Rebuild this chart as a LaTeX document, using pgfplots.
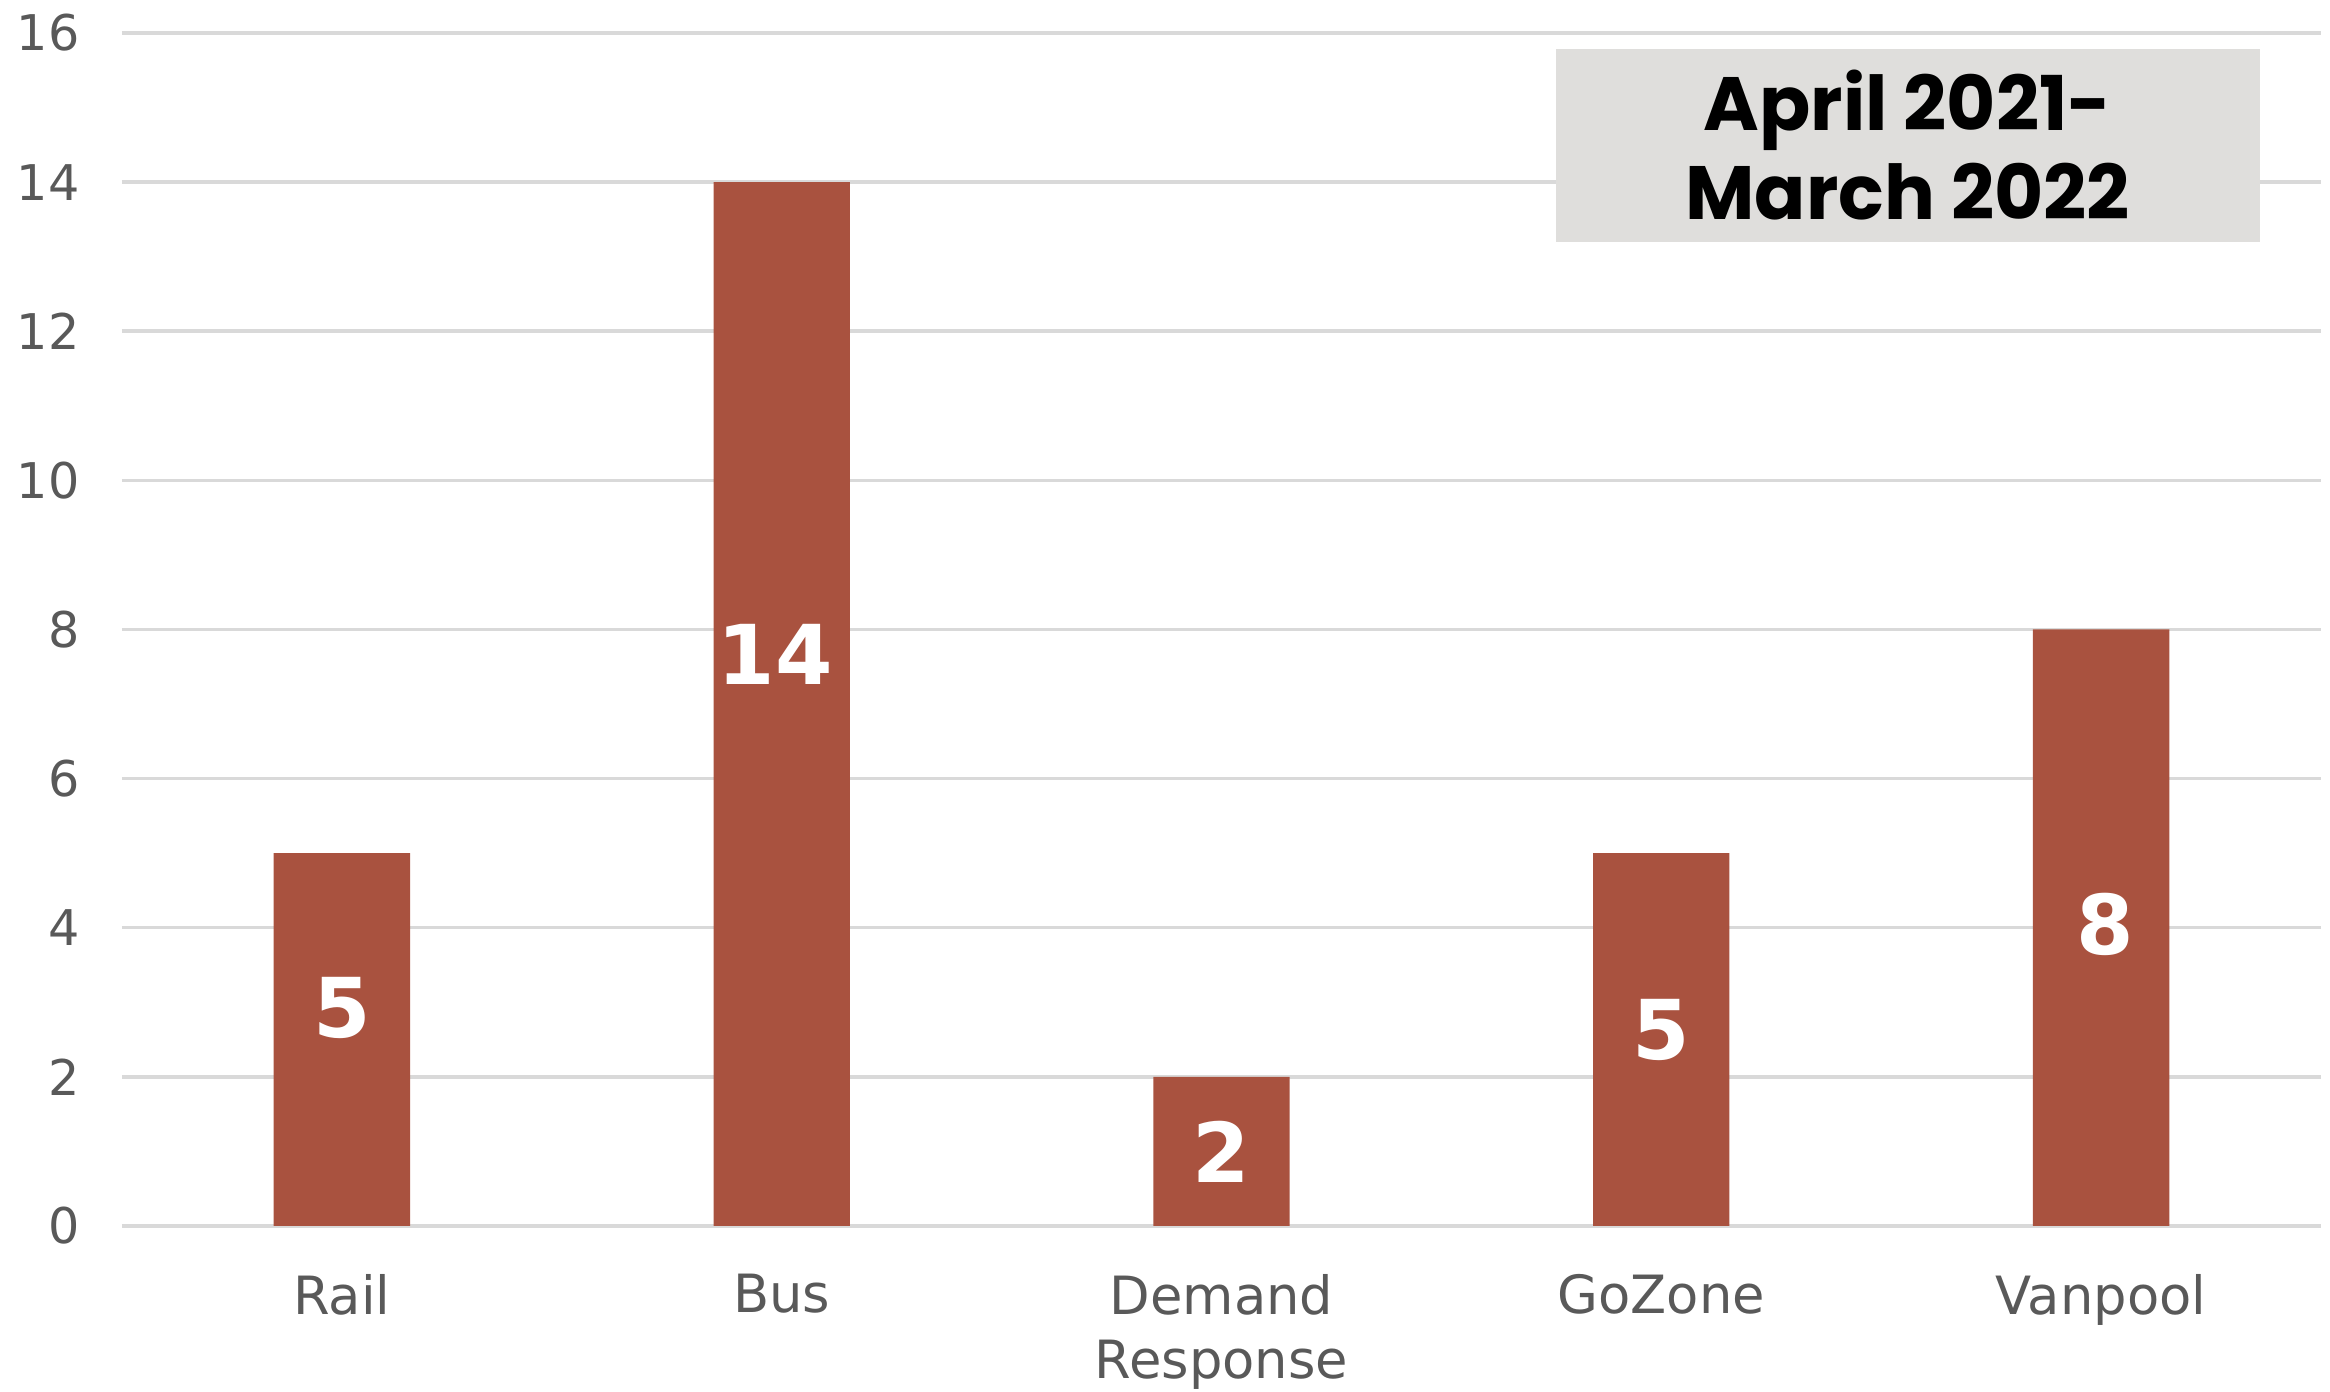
\documentclass[border=0pt]{standalone}
\usepackage{pgfplots}
\pgfplotsset{compat=1.18}
\usepackage{fontspec}
\setmainfont{DejaVu Sans}
\newfontfamily\boxfont{Poppins}
\definecolor{barred}{HTML}{A9523F}
\definecolor{gridgray}{HTML}{D9D9D9}
\definecolor{labgray}{HTML}{595959}
\definecolor{boxgray}{HTML}{DFDEDC}
\begin{document}
\begin{tikzpicture}
  \useasboundingbox (0,0) rectangle (23.3,13.92);
  \begin{axis}[
      at={(1.22cm,1.66cm)}, anchor=south west,
      scale only axis, width=21.99cm, height=11.93cm,
      xmin=-0.5, xmax=4.5, ymin=0, ymax=16,
      ytick={0,2,...,16},
      xtick={0,1,2,3,4},
      xticklabels={Rail,Bus,{Demand\\Response},GoZone,Vanpool},
      axis line style={draw=none},
      tick style={draw=none},
      ymajorgrids, grid style={gridgray, line width=1pt},
      /pgf/number format/assume math mode=true,
      tick label style={font=\fontsize{14}{18.5}\selectfont, text=labgray},
      xticklabel style={align=center, yshift=-0.36cm, anchor=north,
        font=\fontsize{15}{18.3}\selectfont},
      yticklabel style={xshift=-0.3cm},
      clip=false]
    \addplot[ybar, bar width=0.31, fill=barred, draw=none]
      coordinates {(0,5) (1,14) (2,2) (3,5) (4,8)};
    \addplot[only marks, mark=none, nodes near coords,
      point meta=explicit symbolic,
      every node near coord/.style={anchor=center, text=white,
        font=\fontsize{23.5}{26}\selectfont\bfseries}]
      coordinates {(0,2.93)[5] (0.985,7.67)[14] (2,1.0)[2] (3,2.63)[5] (4.01,4.04)[8]};
    \node[fill=boxgray, minimum width=7.04cm, minimum height=1.93cm,
      align=center, inner sep=0pt,
      font=\boxfont\bfseries\fontsize{21.5}{25.5}\selectfont]
      at (rel axis cs:0.812,0.906) {April 2021-\\March 2022};
  \end{axis}
\end{tikzpicture}
\end{document}
